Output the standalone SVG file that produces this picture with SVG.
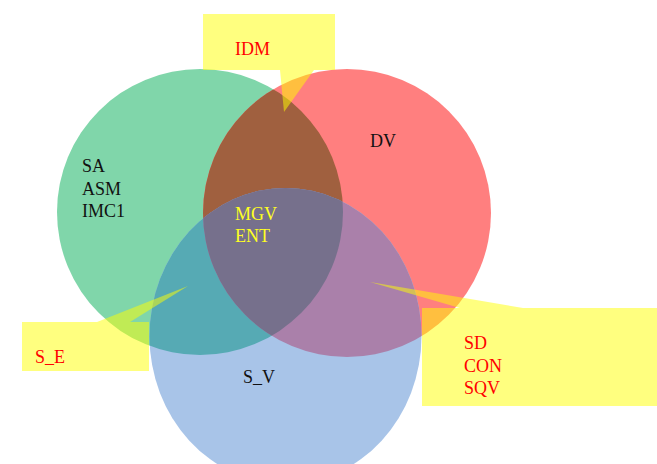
<svg xmlns="http://www.w3.org/2000/svg" width="657" height="464" viewBox="0 0 657 464">
  <style>
    .lbl { font-family: "Liberation Serif", "Times New Roman", serif; font-size: 18px; }
    .dark { fill: #111111; }
    .warn { fill: #ff0000; }
    .hi { fill: #ffff22; }
    .note { fill: #ffff00; fill-opacity: 0.5; }
  </style>
  <defs>
    <circle id="shapeG" cx="200" cy="212" r="143"/>
    <circle id="shapeR" cx="347" cy="213" r="144"/>
    <ellipse id="shapeB" cx="285.5" cy="336" rx="136" ry="148"/>
    <clipPath id="clipG"><use href="#shapeG"/></clipPath>
    <clipPath id="clipR"><use href="#shapeR"/></clipPath>
  </defs>
  <rect width="657" height="464" fill="#ffffff"/>

  <!-- set shapes -->
  <g id="set-green">
    <use href="#shapeG" fill="#80d6aa"/>
  </g>
  <g id="set-red">
    <use href="#shapeR" fill="#ff7f7f"/>
  </g>
  <g id="set-blue">
    <use href="#shapeB" fill="#a8c4e8"/>
  </g>

  <!-- overlap regions -->
  <g id="overlaps">
    <use href="#shapeR" fill="#a0603f" clip-path="url(#clipG)"/>
    <use href="#shapeB" fill="#56aab4" clip-path="url(#clipG)"/>
    <use href="#shapeB" fill="#aa80aa" clip-path="url(#clipR)"/>
    <g clip-path="url(#clipG)">
      <use href="#shapeB" fill="#76708c" clip-path="url(#clipR)"/>
    </g>
  </g>

  <!-- set labels -->
  <g id="labels">
    <text class="lbl dark" x="82" y="172">SA</text>
    <text class="lbl dark" x="82" y="195">ASM</text>
    <text class="lbl dark" x="82" y="217">IMC1</text>
    <text class="lbl dark" x="370" y="147">DV</text>
    <text class="lbl dark" x="243" y="383">S_V</text>
    <text class="lbl hi" x="235" y="220">MGV</text>
    <text class="lbl hi" x="235" y="242">ENT</text>
  </g>

  <!-- callouts -->
  <g id="callout-idm">
    <path class="note" d="M203,14 H335 V70 H314 L284,112 L280,70 H203 Z"/>
    <text class="lbl warn" x="235" y="55">IDM</text>
  </g>
  <g id="callout-se">
    <path class="note" d="M22,322 H97 L188,286 L130,322 H149 V371 H22 Z"/>
    <text class="lbl warn" x="35" y="363">S_E</text>
  </g>
  <g id="callout-sd">
    <path class="note" d="M422,308 H460 L370,282 L523,308 H657 V406 H422 Z"/>
    <text class="lbl warn" x="464" y="349">SD</text>
    <text class="lbl warn" x="464" y="372">CON</text>
    <text class="lbl warn" x="464" y="394">SQV</text>
  </g>
</svg>
